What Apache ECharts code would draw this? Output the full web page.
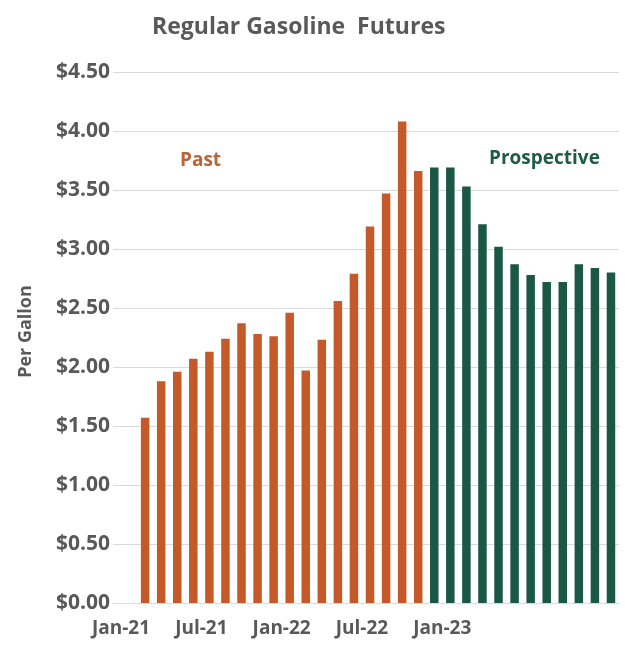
<!DOCTYPE html>
<html>
<head>
<meta charset="utf-8">
<script src="https://cdn.jsdelivr.net/npm/echarts@6/dist/echarts.min.js"></script>
<style>html,body{margin:0;padding:0;background:#fff}#c{width:625px;height:650px}</style>
</head>
<body>
<div id="c"></div>
<script>
const months = ['Jan-21','Feb-21','Mar-21','Apr-21','May-21','Jun-21','Jul-21','Aug-21','Sep-21','Oct-21','Nov-21','Dec-21',
  'Jan-22','Feb-22','Mar-22','Apr-22','May-22','Jun-22','Jul-22','Aug-22','Sep-22','Oct-22','Nov-22','Dec-22',
  'Jan-23','Feb-23','Mar-23','Apr-23','May-23','Jun-23'];
const pastValues = [1.57,1.88,1.96,2.07,2.13,2.24,2.37,2.28,2.26,2.46,1.97,2.23,2.56,2.79,3.19,3.47,4.08,3.66];
const prospectiveValues = [3.69,3.69,3.53,3.21,3.02,2.87,2.78,2.72,2.72,2.87,2.84,2.80];
const tickLabels = ['Jan-21','Jul-21','Jan-22','Jul-22','Jan-23'];

const pastData = pastValues.map((v,i)=>[i,v]);
const prospData = prospectiveValues.map((v,i)=>[pastValues.length+i,v]);
const labelPos = tickLabels.map((_,i)=>i*5-1.5);

const chart = echarts.init(document.getElementById('c'));
const font = '"Open Sans", "Liberation Sans", sans-serif';
chart.setOption({
  animation:false,
  title:{text:'Regular Gasoline  Futures',left:147,top:11,
    textStyle:{fontFamily:font,fontSize:23,fontWeight:'bold',color:'#595959'}},
  grid:{left:113,right:6,top:72,bottom:47},
  xAxis:{type:'value',min:-2,max:29.5,
    axisLine:{show:true,lineStyle:{color:'#D9D9D9'}},
    axisTick:{show:false},splitLine:{show:false},
    axisLabel:{customValues:labelPos,margin:16,
      formatter:(v)=>{const i=labelPos.findIndex(p=>Math.abs(p-v)<1e-6);return i>=0?tickLabels[i]:'';},
      fontFamily:font,fontSize:19,fontWeight:'bold',color:'#595959'}},
  yAxis:{type:'value',min:0,max:4.5,interval:0.5,
    name:'Per Gallon',nameLocation:'middle',nameGap:78,nameRotate:90,
    nameTextStyle:{fontFamily:font,fontSize:18,fontWeight:'bold',color:'#595959',padding:[0,0,0,12]},
    axisLine:{show:false},axisTick:{show:false},
    splitLine:{lineStyle:{color:'#D9D9D9',width:1}},
    axisLabel:{margin:3,formatter:(v)=>'$'+v.toFixed(2),
      fontFamily:font,fontSize:21,fontWeight:'bold',color:'#595959'}},
  series:[
    {name:'Past',type:'bar',data:pastData,barWidth:8.5,barGap:'-100%',itemStyle:{color:'#C45A2A'}},
    {name:'Prospective',type:'bar',data:prospData,barWidth:8.5,barGap:'-100%',itemStyle:{color:'#1B5745'}}
  ],
  graphic:[
    {type:'text',left:180,top:151,style:{text:'Past',font:'bold 19px '+font,fill:'#B8643C'}},
    {type:'text',left:489,top:149,style:{text:'Prospective',font:'bold 19px '+font,fill:'#1E5B48'}}
  ]
});
</script>
</body>
</html>
